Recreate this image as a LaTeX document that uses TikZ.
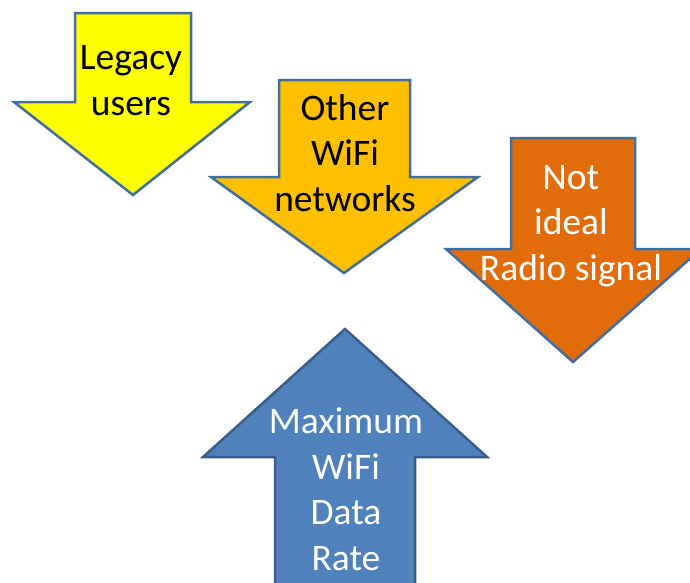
\documentclass[tikz,border=0pt]{standalone}
\usepackage{fontspec}
\setmainfont{Carlito}
\definecolor{arrowline}{RGB}{65,110,155}
\definecolor{legacyfill}{RGB}{255,255,0}
\definecolor{otherfill}{RGB}{255,192,0}
\definecolor{radiofill}{RGB}{227,108,10}
\definecolor{ratefill}{RGB}{79,129,189}
\definecolor{rateline}{RGB}{56,93,138}
\tikzset{
  arrowshape/.style={draw=arrowline, line width=2.5pt, line join=miter},
  lbl/.style={align=center, anchor=base, inner sep=0pt, font=\fontsize{37.5}{45.5}\selectfont}
}
\begin{document}
\begin{tikzpicture}[x=1pt,y=-1pt]
			\useasboundingbox (0,0) rectangle (690,582);
			% down arrows
			\filldraw [arrowshape, fill=legacyfill] (75,13) -- (191,13) -- (191,102) -- (250,102) -- (133,195) -- (14,102) -- (75,102) -- cycle;
			\filldraw [arrowshape, fill=otherfill] (279,80) -- (410,80) -- (410,177) -- (478,177) -- (344,273) -- (211,177) -- (279,177) -- cycle;
			\filldraw [arrowshape, fill=radiofill] (511,138) -- (635,138) -- (635,249) -- (701,249) -- (573,362) -- (446,249) -- (511,249) -- cycle;
			% up arrow
			\filldraw [arrowshape, draw=rateline, fill=ratefill] (275,600) -- (275,457) -- (203,457) -- (345,329) -- (487,457) -- (415,457) -- (415,600);
			% labels (anchored at the last line)
			\node[lbl] (legacy) at (131,115) {Legacy\\users};
			\node[lbl] (other) at (345,211) {Other\\WiFi\\networks};
			\node[lbl, text=white] (radio) at (571,280) {Not\\ideal\\Radio signal};
			\node[lbl, text=white] (rate) at (346,570) {Maximum\\WiFi\\Data\\Rate};
		\end{tikzpicture}
\end{document}
